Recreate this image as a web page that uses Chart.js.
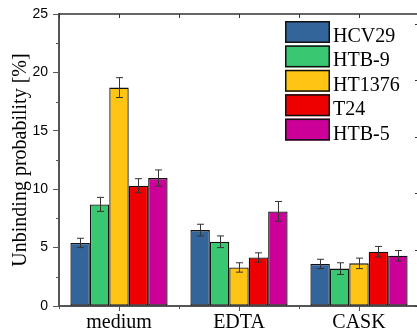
<!DOCTYPE html>
<html>
<head>
<meta charset="utf-8">
<script src="https://cdn.jsdelivr.net/npm/chart.js@4/dist/chart.umd.min.js"></script>
<style>
  html, body { margin: 0; padding: 0; background: #fff; overflow: hidden; }
  #wrap { width: 420px; height: 336px; }
</style>
</head>
<body>
<div id="wrap"><canvas id="c" width="420" height="336"></canvas></div>
<script>
// Conditions on the x axis
const categories = ['medium', 'EDTA', 'CASK'];

// Cell lines
const seriesNames = ['HCV29', 'HTB-9', 'HT1376', 'T24', 'HTB-5'];

// Mean unbinding probability [%] per condition
const hcv29  = [5.4, 6.5, 3.6];
const htb9   = [8.7, 5.5, 3.2];
const ht1376 = [18.7, 3.3, 3.65];
const t24    = [10.3, 4.15, 4.65];
const htb5   = [10.95, 8.1, 4.3];

// Standard errors [%]
const hcv29Err  = [0.4, 0.5, 0.4];
const htb9Err   = [0.6, 0.5, 0.5];
const ht1376Err = [0.85, 0.4, 0.45];
const t24Err    = [0.6, 0.4, 0.45];
const htb5Err   = [0.7, 0.85, 0.45];

// Y axis ticks
const yMajorTicks = [0, 5, 10, 15, 20, 25];
const yMinorTicks = [2.5, 7.5, 12.5, 17.5, 22.5];

const colors = ['#33659b', '#39c772', '#ffc414', '#ee0000', '#cc0099'];
const values = [hcv29, htb9, ht1376, t24, htb5];
const errors = [hcv29Err, htb9Err, ht1376Err, t24Err, htb5Err];

const AXIS = '#555';
const SERIF = '"Liberation Serif", "Times New Roman", serif';
const SANS = '"Liberation Sans", Arial, sans-serif';

const datasets = seriesNames.map((name, i) => ({
  label: name,
  data: values[i],
  errors: errors[i],
  backgroundColor: colors[i],
  borderColor: '#111',
  borderWidth: 1.3,
  borderSkipped: false,
  categoryPercentage: 0.81,
  barPercentage: 1.0
}));

// Error bars with caps, placed through the y scale
const errorBars = {
  id: 'errorBars',
  afterDatasetsDraw(chart) {
    const ctx = chart.ctx;
    const y = chart.scales.y;
    ctx.save();
    ctx.strokeStyle = '#333';
    ctx.lineWidth = 1;
    chart.data.datasets.forEach((ds, di) => {
      const meta = chart.getDatasetMeta(di);
      meta.data.forEach((bar, j) => {
        const v = ds.data[j], e = ds.errors[j];
        const x = Math.round(bar.x) + 0.5;
        const top = y.getPixelForValue(v + e);
        const bot = y.getPixelForValue(v - e);
        ctx.beginPath();
        ctx.moveTo(x, top); ctx.lineTo(x, bot);
        ctx.moveTo(x - 3.5, top); ctx.lineTo(x + 3.5, top);
        ctx.moveTo(x - 3.5, bot); ctx.lineTo(x + 3.5, bot);
        ctx.stroke();
      });
    });
    ctx.restore();
  }
};

// Frame on top and right, plus minor ticks
const frame = {
  id: 'frame',
  afterDraw(chart) {
    const ctx = chart.ctx;
    const {left, right, top, bottom} = chart.chartArea;
    const x = chart.scales.x, y = chart.scales.y, y2 = chart.scales.y2;
    ctx.save();
    ctx.strokeStyle = '#333';
    ctx.lineWidth = 1.5;
    ctx.beginPath();
    ctx.moveTo(left, top); ctx.lineTo(right, top);
    ctx.moveTo(right, top); ctx.lineTo(right, bottom);
    ctx.stroke();

    ctx.lineWidth = 1;
    ctx.beginPath();
    // top ticks at conditions and between them
    for (let i = -0.5; i <= categories.length - 0.5; i += 0.5) {
      const px = Math.round(x.getPixelForValue(i)) + 0.5;
      ctx.moveTo(px, top); ctx.lineTo(px, top + 4);
    }
    // right ticks
    for (const v of yMajorTicks) {
      const py = Math.round(y2.getPixelForValue(v)) + 0.5;
      ctx.moveTo(right, py); ctx.lineTo(right - 4, py);
    }
    ctx.stroke();

    ctx.strokeStyle = AXIS;
    ctx.beginPath();
    // bottom minor ticks between conditions
    for (let i = -0.5; i <= categories.length - 0.5; i += 1) {
      const px = Math.round(x.getPixelForValue(i)) + 0.5;
      ctx.moveTo(px, bottom); ctx.lineTo(px, bottom + 3);
    }
    // left minor ticks
    for (const v of yMinorTicks) {
      const py = Math.round(y.getPixelForValue(v)) + 0.5;
      ctx.moveTo(left, py); ctx.lineTo(left - 3, py);
    }
    ctx.stroke();
    ctx.restore();
  }
};

// Legend box in the upper right of the plot
const boxLegend = {
  id: 'boxLegend',
  afterDraw(chart) {
    const ctx = chart.ctx;
    const bx = 285, by = 21, bw = 45, bh = 22, pitch = 24.4;
    ctx.save();
    ctx.font = '20px ' + SERIF;
    ctx.textBaseline = 'alphabetic';
    ctx.textAlign = 'left';
    chart.data.datasets.forEach((ds, i) => {
      const yy = by + i * pitch;
      ctx.fillStyle = ds.backgroundColor;
      ctx.fillRect(bx, yy, bw, bh);
      ctx.strokeStyle = '#111';
      ctx.lineWidth = 1.5;
      ctx.strokeRect(bx + 0.75, yy + 0.75, bw - 1.5, bh - 1.5);
      ctx.fillStyle = '#000';
      ctx.fillText(ds.label, bx + bw + 3, yy + bh - 1);
    });
    ctx.restore();
  }
};

new Chart(document.getElementById('c'), {
  type: 'bar',
  data: { labels: categories, datasets },
  plugins: [errorBars, frame, boxLegend],
  options: {
    responsive: false,
    animation: false,
    devicePixelRatio: 1,
    layout: { padding: { top: 14, right: 1, left: 0, bottom: 0 } },
    plugins: { legend: { display: false }, tooltip: { enabled: false } },
    scales: {
      x: {
        type: 'category',
        offset: true,
        grid: { offset: false, drawOnChartArea: false, tickLength: 5, tickColor: AXIS, tickWidth: 1 },
        border: { color: AXIS, width: 2 },
        ticks: { font: { family: SERIF, size: 20 }, color: '#000', padding: 0 },
        afterFit(s) { s.height = 30; }
      },
      y: {
        min: 0, max: 25,
        afterBuildTicks(s) { s.ticks = yMajorTicks.map(v => ({ value: v })); },
        grid: { drawOnChartArea: false, tickLength: 6, tickColor: AXIS, tickWidth: 1 },
        border: { color: AXIS, width: 2 },
        ticks: { font: { family: SANS, size: 14 }, color: '#000', padding: 5 },
        title: {
          display: true,
          text: 'Unbinding probability [%]',
          font: { family: SERIF, size: 20 },
          color: '#000',
          padding: { top: 9, bottom: 0 }
        },
        afterFit(s) { s.width = 59; }
      },
      y2: {
        display: false,
        position: 'right',
        min: 0, max: 25.85
      }
    }
  }
});
</script>
</body>
</html>
